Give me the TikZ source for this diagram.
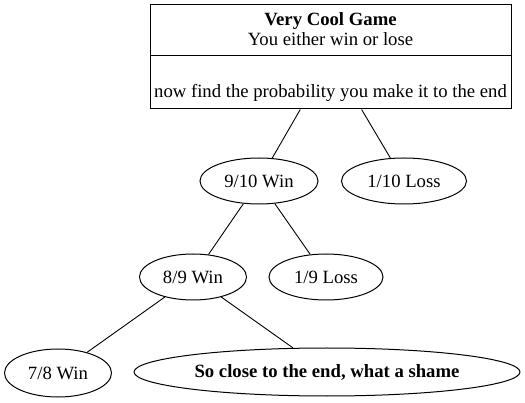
\documentclass[tikz,border=0pt]{standalone}
\usepackage{fontspec}
\setmainfont{Liberation Serif}
\usetikzlibrary{shapes.geometric}
\begin{document}
\begin{tikzpicture}[x=1pt,y=-1pt,line width=1pt,
  oval/.style={draw,ellipse,inner sep=0pt,minimum height=46pt,font=\fontsize{18.7}{22}\selectfont},
  txt/.style={inner sep=0pt,font=\fontsize{18.7}{22}\selectfont},
  edge/.style={draw,line width=0.9pt}]
\useasboundingbox (0,0) rectangle (525,403);
\node[draw,inner sep=0pt,minimum width=361pt,minimum height=104pt] (root) at (330.5,57) {};
\coordinate (dl) at (150,56);
\coordinate (dr) at (511,56);
\draw (dl) -- (dr);
\node[txt,font=\fontsize{18.7}{22}\selectfont\bfseries] (t1) at (330.5,21) {Very Cool Game};
\node[txt] (t2) at (330.5,39) {You either win or lose};
\node[txt] (t3) at (330.5,93) {now find the probability you make it to the end};
\node[oval,minimum width=118pt] (w9) at (259,181) {9/10 Win};
\node[oval,minimum width=125pt] (l10) at (404,181) {1/10 Loss};
\node[oval,minimum width=107pt] (w8) at (193,277) {8/9 Win};
\node[oval,minimum width=114pt] (l9) at (326,277) {1/9 Loss};
\node[oval,minimum width=107pt,minimum height=48pt] (w7) at (58,373) {7/8 Win};
\node[oval,minimum width=386pt,minimum height=48pt,font=\fontsize{18.7}{22}\selectfont\bfseries] (sh) at (327,372) {So close to the end, what a shame};
\draw[edge] (root) -- (w9);
\draw[edge] (root) -- (l10);
\draw[edge] (w9) -- (w8);
\draw[edge] (w9) -- (l9);
\draw[edge] (w8) -- (w7);
\draw[edge] (w8) -- (sh);
\end{tikzpicture}
\end{document}
